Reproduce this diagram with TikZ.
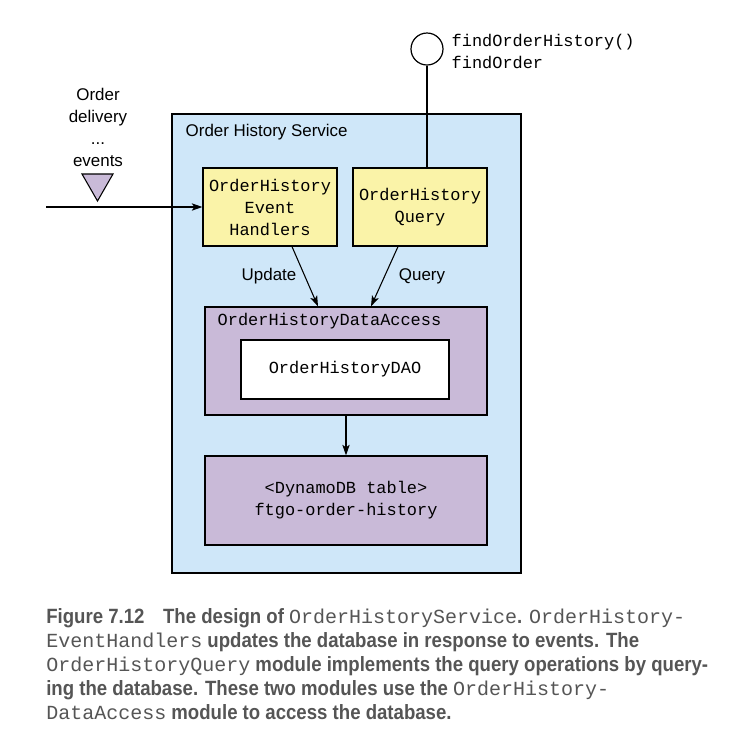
\documentclass[tikz,border=0pt]{standalone}
\usepackage{fontspec}
\setmainfont{Liberation Sans}
\setmonofont{Liberation Mono}
\newfontfamily\capfont[FakeStretch=0.9]{Liberation Sans}
\newfontfamily\capmono{Liberation Mono}
\newcommand\capcode[1]{{\capmono\mdseries\fontsize{15}{18}\selectfont #1}}
\usetikzlibrary{arrows.meta,positioning}
\definecolor{svcblue}{HTML}{CFE7F9}
\definecolor{modyellow}{HTML}{FAF3A8}
\definecolor{datapurple}{HTML}{C9BAD8}
\definecolor{capgray}{HTML}{555555}

\begin{document}
\begin{tikzpicture}[x=0.75pt,y=-0.75pt,
    box/.style={draw,line width=0.9pt,inner sep=0pt},
    module/.style={box,fill=modyellow,minimum width=100.5pt,minimum height=58.5pt,
        align=center,font=\ttfamily\fontsize{12.7}{16.5}\selectfont},
    datastore/.style={box,fill=datapurple,minimum width=211.5pt,
        align=center,font=\ttfamily\fontsize{12.7}{16.5}\selectfont},
    label/.style={font=\fontsize{12.7}{16.5}\selectfont},
    arr/.style={-{Stealth[length=8pt,width=5.5pt,inset=2pt]},line width=0.8pt}]
    \useasboundingbox (0,0) rectangle (740,751);

    % service container
    \node[box,fill=svcblue,minimum width=261.75pt,minimum height=344.25pt] (svc) at (346.5,343.5) {};
    \node[label,anchor=west] (svcname) at (181,132) {Order History Service};

    % modules
    \node[module] (handlers) at (270,207) {OrderHistory\\Event\\Handlers};
    \node[module,font=\ttfamily\fontsize{12.7}{17}\selectfont] (query) at (420,207) {OrderHistory\\Query};

    \node[datastore,minimum height=81pt] (access) at (346,361) {};
    \node[anchor=west,font=\ttfamily\fontsize{12.7}{16.5}\selectfont] (accessname) at (213,321) {OrderHistoryDataAccess};
    \node[box,fill=white,minimum width=156pt,minimum height=44.25pt,
        font=\ttfamily\fontsize{12.7}{16.5}\selectfont] (dao) at (345,369.5) {OrderHistoryDAO};

    \node[datastore,minimum height=66.75pt] (table) at (346,500.5) {<DynamoDB table>\\ftgo-order-history};

    % provided interface
    \node[draw,circle,line width=0.9pt,minimum size=24pt,inner sep=0pt] (iface) at (427,49) {};
    \node[anchor=west,align=left,font=\ttfamily\fontsize{12.7}{16.5}\selectfont] (ops) at (447,51) {findOrderHistory()\\findOrder};
    \draw[line width=0.8pt] (iface) -- (iface |- query.north);

    % incoming events
    \node[label,align=center] (events) at (98,127) {Order\\delivery\\...\\events};
    \draw[line width=0.8pt,fill=datapurple] (82,174) -- (113,174) -- (97.5,201) -- cycle;
    \coordinate (evin) at (46,207);
    \draw[arr] (evin) -- (handlers.west);

    % dependencies
    \draw[arr] ([xshift=16.5pt]handlers.south) -- ([xshift=-21pt]access.north);
    \draw[arr] ([xshift=-16.5pt]query.south) -- ([xshift=18.75pt]access.north);
    \node[label] (upd) at (269,276) {Update};
    \node[label] (qry) at (422,276) {Query};
    \draw[arr] (access) -- (table);

    % caption
    \node[anchor=north west,align=left,text=capgray,inner sep=0pt,
        font=\capfont\bfseries\fontsize{15.5}{18}\selectfont] (caption) at (46,608)
        {Figure 7.12\hspace{0.9em}The design of \capcode{OrderHistoryService}. \capcode{OrderHistory-}\\
         \capcode{EventHandlers} updates the database in response to events. The\\
         \capcode{OrderHistoryQuery} module implements the query operations by query-\\
         ing the database. These two modules use the \capcode{OrderHistory-}\\
         \capcode{DataAccess} module to access the database.};
\end{tikzpicture}
\end{document}
